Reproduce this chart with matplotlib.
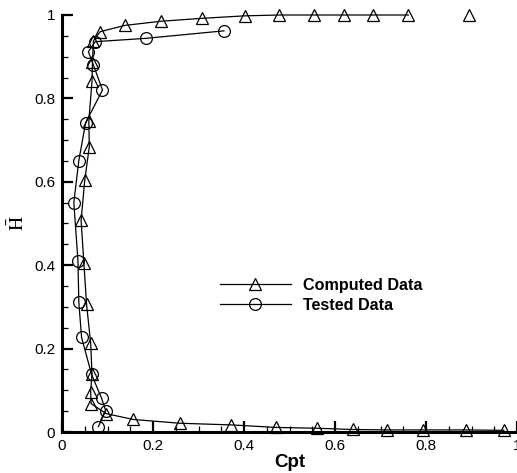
import matplotlib

matplotlib.use("Agg")

import matplotlib.pyplot as plt
from matplotlib.ticker import MultipleLocator

plt.rcParams["font.family"] = ["Liberation Sans", "DejaVu Sans"]
plt.rcParams["mathtext.fontset"] = "stix"

# --- data ---

# Computed Data (triangles), traced from the top tail down to the bottom tail
computed_cpt = [0.761, 0.683, 0.620, 0.554, 0.478, 0.402, 0.308, 0.217, 0.138,
                0.084, 0.069, 0.067, 0.066, 0.059, 0.060, 0.050, 0.042, 0.048,
                0.054, 0.063, 0.066, 0.063, 0.064, 0.097, 0.157, 0.259, 0.372,
                0.470, 0.560, 0.639, 0.714, 0.794, 0.887, 0.971]
computed_h = [1.000, 1.000, 1.000, 1.000, 1.000, 0.998, 0.992, 0.985, 0.975,
              0.960, 0.938, 0.888, 0.842, 0.746, 0.684, 0.604, 0.508, 0.406,
              0.306, 0.213, 0.139, 0.097, 0.068, 0.044, 0.030, 0.021, 0.017,
              0.011, 0.009, 0.006, 0.005, 0.005, 0.005, 0.004]
# lone computed point at the top right, not joined by the line
computed_extra_cpt = [0.895]
computed_extra_h = [1.000]

# Tested Data (circles)
tested_cpt = [0.080, 0.096, 0.087, 0.065, 0.043, 0.037, 0.035, 0.026, 0.037,
              0.052, 0.089, 0.069, 0.058, 0.073, 0.184, 0.356]
tested_h = [0.013, 0.051, 0.081, 0.138, 0.227, 0.311, 0.411, 0.550, 0.651,
            0.742, 0.820, 0.880, 0.912, 0.936, 0.944, 0.962]

tick_values = [0, 0.2, 0.4, 0.6, 0.8, 1.0]
tick_labels = ["0", "0.2", "0.4", "0.6", "0.8", "1"]

# --- figure ---

W, H = 517, 473
fig = plt.figure(figsize=(W / 100, H / 100), dpi=100)
ax = fig.add_axes([62 / W, 1 - 432 / H, (W - 62) / W, (432 - 15) / H])

marker_style = dict(markersize=8.5, markerfacecolor="none",
                    markeredgecolor="black", markeredgewidth=0.9)
ax.plot(computed_cpt, computed_h, color="black", linewidth=0.9, marker="^",
        label="Computed Data", clip_on=False, **marker_style)
ax.plot(computed_extra_cpt, computed_extra_h, linestyle="none", marker="^",
        clip_on=False, **marker_style)
ax.plot(tested_cpt, tested_h, color="black", linewidth=0.9, marker="o",
        label="Tested Data", clip_on=False, **marker_style)

ax.set_xlim(0, 1)
ax.set_ylim(0, 1)
ax.set_xticks(tick_values, labels=tick_labels)
ax.set_yticks(tick_values, labels=tick_labels)
ax.xaxis.set_minor_locator(MultipleLocator(0.05))
ax.yaxis.set_minor_locator(MultipleLocator(0.05))
ax.tick_params(which="both", direction="in", top=False, right=False,
               labelsize=11, colors="black")
ax.tick_params(which="major", length=8, width=1.6, pad=5)
ax.tick_params(which="minor", length=4.5, width=0.9)

for side in ("top", "right"):
    ax.spines[side].set_visible(False)
for side in ("left", "bottom"):
    ax.spines[side].set_linewidth(2.2)

ax.set_xlabel("Cpt", fontsize=13.5, fontweight="bold", labelpad=1)
ax.set_ylabel(r"$\bar{\mathrm{H}}$", fontsize=14, labelpad=4)

ax.legend(loc="upper left", bbox_to_anchor=(220 / W, 1 - 278 / H),
          bbox_transform=fig.transFigure, frameon=False, borderpad=0,
          borderaxespad=0, handlelength=4.4, handletextpad=0.75,
          labelspacing=0.3, prop={"weight": "bold", "size": 11.6})

fig.savefig("out.png", dpi=100)
